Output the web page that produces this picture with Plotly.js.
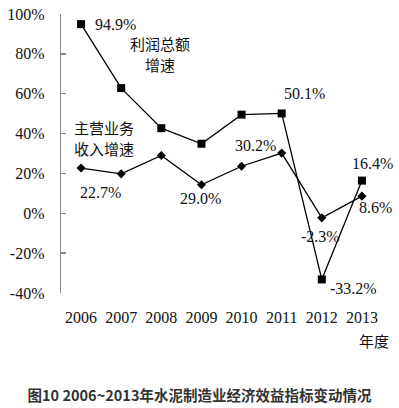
<!DOCTYPE html>
<html><head><meta charset="utf-8">
<script src="https://cdn.plot.ly/plotly-3.0.1.min.js"></script>
<style>html,body{margin:0;padding:0;background:#fff}#c{width:399px;height:408px}</style>
</head><body><div id="c"></div>
<script>
const years = [2006, 2007, 2008, 2009, 2010, 2011, 2012, 2013];
const yearLabels = ["2006", "2007", "2008", "2009", "2010", "2011", "2012", "2013"];
const profitGrowth = [94.9, 62.8, 42.7, 34.9, 49.5, 50.1, -33.2, 16.4];
const revenueGrowth = [22.7, 19.8, 29.0, 14.3, 23.6, 30.2, -2.3, 8.6];
const yTicks = [-40, -20, 0, 20, 40, 60, 80, 100];
const yTickLabels = ["-40%", "-20%", "0%", "20%", "40%", "60%", "80%", "100%"];

const W = 399, H = 408, L = 61, R = 17, T = 14, B = 115;
const pw = W - L - R, ph = H - T - B;
function px(x) { return (x - L) / pw; }
function py(y) { return (H - B - y) / ph; }

const serif = "Liberation Serif";
const cjk = "Noto Sans CJK SC";
function ann(text, x, y, font, anchor) {
  return {text: text, xref: "paper", yref: "paper", x: px(x), y: py(y),
    xanchor: anchor || "left", yanchor: "middle", showarrow: false,
    font: Object.assign({color: "#111"}, font)};
}
const fNum = {family: serif, size: 16};
const fCjk = {family: cjk, size: 15};

const traces = [
  {x: years, y: profitGrowth, type: "scatter", mode: "lines+markers",
   line: {color: "#000", width: 1.3}, marker: {symbol: "square", size: 8, color: "#000"},
   hoverinfo: "skip"},
  {x: years, y: revenueGrowth, type: "scatter", mode: "lines+markers",
   line: {color: "#000", width: 1.3}, marker: {symbol: "diamond", size: 7, color: "#000"},
   hoverinfo: "skip"}
];

const layout = {
  width: W, height: H, showlegend: false,
  margin: {l: L, r: R, t: T, b: B},
  paper_bgcolor: "#fff", plot_bgcolor: "#fff",
  font: {family: serif},
  title: {text: "<b>图10 2006~2013年水泥制造业经济效益指标变动情况</b>",
    font: {family: cjk, size: 14.5, color: "#333"},
    xref: "container", yref: "container", x: 0.5, xanchor: "center",
    y: 1 - 396 / H, yanchor: "middle"},
  xaxis: {range: [2005.5, 2013.5], tickvals: years, ticktext: yearLabels,
    showline: false, showgrid: false, zeroline: false, ticks: "",
    tickfont: {family: serif, size: 16, color: "#111"}, ticklabelstandoff: 13},
  xaxis2: {overlaying: "x", matches: "x", anchor: "free", position: 40 / 140,
    range: [2005.5, 2013.5], tickmode: "linear", tick0: 2005.5, dtick: 1,
    showline: true, linecolor: "#888", linewidth: 1.3, ticks: "inside", ticklen: 5,
    tickcolor: "#888", tickwidth: 1.3, showticklabels: false, showgrid: false, zeroline: false},
  yaxis: {range: [-40, 100], tickvals: yTicks, ticktext: yTickLabels,
    showline: true, linecolor: "#888", linewidth: 1.3, ticks: "inside", ticklen: 5,
    tickcolor: "#888", tickwidth: 1.3, showgrid: false, zeroline: false,
    tickfont: {family: serif, size: 16, color: "#111"}, ticklabelstandoff: 12},
  annotations: [
    ann("94.9%", 93, 24, fNum),
    ann("利润总额", 160, 43, fCjk, "center"),
    ann("增速", 160, 64, fCjk, "center"),
    ann("主营业务", 104, 127, fCjk, "center"),
    ann("收入增速", 104, 148, fCjk, "center"),
    ann("50.1%", 282, 93, fNum),
    ann("30.2%", 233, 145, fNum),
    ann("22.7%", 78, 192, fNum),
    ann("29.0%", 178, 198, fNum),
    ann("16.4%", 350, 163, fNum),
    ann("8.6%", 357, 207, fNum),
    ann("-2.3%", 299, 236, fNum),
    ann("-33.2%", 328, 288, fNum),
    ann("年度", 374, 340, fCjk, "center")
  ]
};
Plotly.newPlot("c", traces, layout, {staticPlot: true, displayModeBar: false});
</script></body></html>
